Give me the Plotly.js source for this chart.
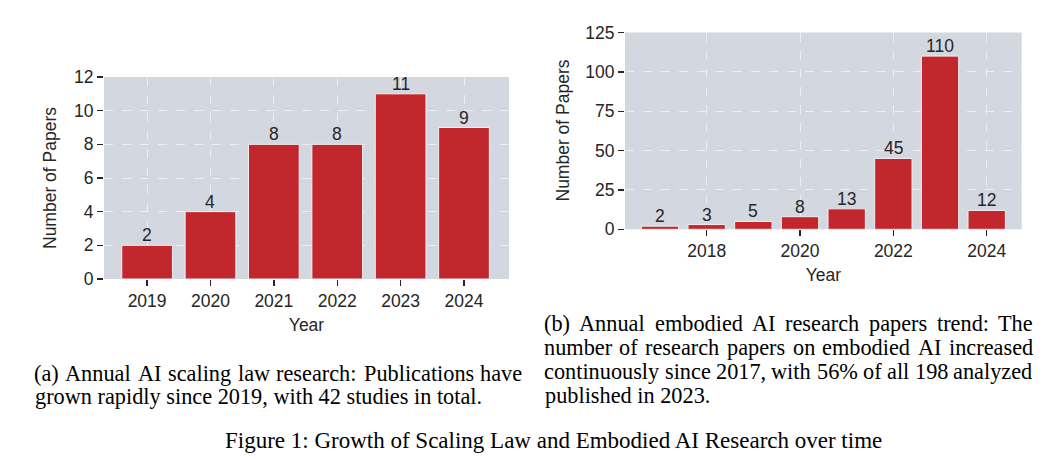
<!DOCTYPE html>
<html>
<head>
<meta charset="utf-8">
<script src="https://cdn.plot.ly/plotly-3.0.1.min.js"></script>
<style>html,body{margin:0;padding:0;background:#fff;}#chart{width:1051px;height:459px;}</style>
</head>
<body>
<div id="chart"></div>
<script>
// Data
const yearsA = [2019, 2020, 2021, 2022, 2023, 2024];
const papersA = [2, 4, 8, 8, 11, 9];
const yearsB = [2017, 2018, 2019, 2020, 2021, 2022, 2023, 2024];
const papersB = [2, 3, 5, 8, 13, 45, 110, 12];
const ticksA = [2019, 2020, 2021, 2022, 2023, 2024];
const ticksB = [2018, 2020, 2022, 2024];
const yTicksA = [0, 2, 4, 6, 8, 10, 12];
const yTicksB = [0, 25, 50, 75, 100, 125];
const captionA = ["(a) Annual AI scaling law research: Publications have",
                  "grown rapidly since 2019, with 42 studies in total."];
const captionB = ["(b) Annual embodied AI research papers trend: The",
                  "number of research papers on embodied AI increased",
                  "continuously since 2017, with 56% of all 198 analyzed",
                  "published in 2023."];
const figCaption = "Figure 1: Growth of Scaling Law and Embodied AI Research over time";

const W = 1051, H = 459;
const px = v => v / W;
const py = v => 1 - v / H;

const barColor = '#c1272d';
const bg = '#d3d7e0';
const txt = '#262626';
const sans = 'Liberation Sans, Arial, sans-serif';
const serif = 'Liberation Serif, Times New Roman, serif';
const FS = 17.5;
const SF = 22.3;
const MF = 23;

const traces = [
  {type: 'bar', x: yearsA, y: papersA, width: 0.8, xaxis: 'x', yaxis: 'y',
   marker: {color: barColor, line: {color: '#f0f0f0', width: 1}}, hoverinfo: 'none'},
  {type: 'bar', x: yearsB, y: papersB, width: 0.8, xaxis: 'x2', yaxis: 'y2',
   marker: {color: barColor, line: {color: '#f0f0f0', width: 1}}, hoverinfo: 'none'}
];

const axCommon = {
  showgrid: true, gridcolor: '#eceef2', griddash: 'dash', gridwidth: 1,
  zeroline: false, showline: false, ticks: 'outside', ticklen: 6, tickwidth: 1.3,
  tickcolor: txt, tickfont: {family: sans, size: FS, color: txt}
};

const layout = {
  width: W, height: H, margin: {l: 0, r: 0, t: 0, b: 0},
  paper_bgcolor: '#fff', plot_bgcolor: bg, showlegend: false, bargap: 0,
  font: {family: sans, color: txt},
  xaxis: Object.assign({}, axCommon, {domain: [px(104), px(509)], range: [2018.32, 2024.71],
    tickvals: ticksA, anchor: 'y',
    title: {text: 'Year', font: {family: sans, size: FS, color: txt}, standoff: 8}}),
  yaxis: Object.assign({}, axCommon, {domain: [py(279), py(77)], range: [0, 12],
    tickvals: yTicksA, anchor: 'x'}),
  xaxis2: Object.assign({}, axCommon, {domain: [px(625), px(1021.7)], range: [2016.25, 2024.75],
    tickvals: ticksB, anchor: 'y2',
    title: {text: 'Year', font: {family: sans, size: FS, color: txt}, standoff: 8}}),
  yaxis2: Object.assign({}, axCommon, {domain: [py(229.3), py(32.5)], range: [0, 125],
    tickvals: yTicksB, anchor: 'x2'}),
  annotations: []
};

// bar value labels (data coordinates)
function addBarLabels(xs, ys, xr, yr) {
  xs.forEach((x, i) => {
    layout.annotations.push({text: String(ys[i]), x: x, y: ys[i], xref: xr, yref: yr,
      xanchor: 'center', yanchor: 'middle', yshift: 10, showarrow: false,
      font: {family: sans, size: FS, color: txt}});
  });
}
addBarLabels(yearsA, papersA, 'x', 'y');
addBarLabels(yearsB, papersB, 'x2', 'y2');

// y-axis titles
[[50.7, 178.3], [562.7, 130.8]].forEach(([cx, cy]) => {
  layout.annotations.push({text: 'Number of Papers', xref: 'paper', yref: 'paper',
    x: px(cx), y: py(cy), xanchor: 'center', yanchor: 'middle', textangle: -90,
    showarrow: false, font: {family: sans, size: FS, color: txt}});
});

// text measuring for justified caption lines
const cv = document.createElement('canvas').getContext('2d');
cv.font = SF + 'px "Liberation Serif"';
function addLine(line, left, right, cy, justify) {
  if (!justify) {
    layout.annotations.push({text: line, xref: 'paper', yref: 'paper', x: px(left), y: py(cy),
      xanchor: 'left', yanchor: 'middle', showarrow: false,
      font: {family: serif, size: SF, color: '#000'}});
    return;
  }
  const words = line.split(' ');
  const widths = words.map(w => cv.measureText(w).width);
  const total = widths.reduce((a, b) => a + b, 0);
  const gap = (right - left - total) / (words.length - 1);
  let x = left;
  words.forEach((w, i) => {
    layout.annotations.push({text: w, xref: 'paper', yref: 'paper', x: px(x), y: py(cy),
      xanchor: 'left', yanchor: 'middle', showarrow: false, borderpad: 0,
      font: {family: serif, size: SF, color: '#000'}});
    x += widths[i] + gap;
  });
}

captionA.forEach((line, i) => addLine(line, 33, 521.5, 373 + i * 23.5, i === 0));
captionB.forEach((line, i) => addLine(line, 543, 1031.7, 323 + i * 24.3, i < 3));

layout.annotations.push({text: figCaption, xref: 'paper', yref: 'paper', x: px(553), y: py(440),
  xanchor: 'center', yanchor: 'middle', showarrow: false,
  font: {family: serif, size: MF, color: '#000'}});

Plotly.newPlot('chart', traces, layout, {staticPlot: true, displayModeBar: false});
</script>
</body>
</html>
